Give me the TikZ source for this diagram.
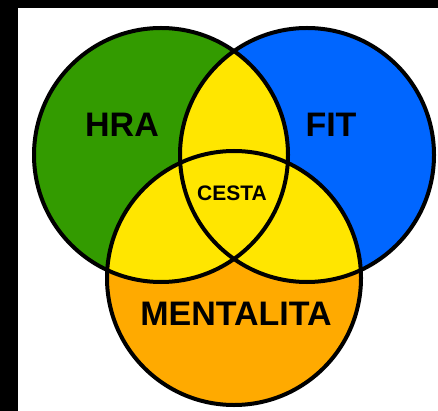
\documentclass[tikz,border=0pt]{standalone}
\usepackage{fontspec}
\setmainfont{Liberation Sans}
\definecolor{hragreen}{RGB}{51,155,0}
\definecolor{fitblue}{RGB}{0,102,255}
\definecolor{cestayellow}{RGB}{255,230,0}
\definecolor{mentorange}{RGB}{255,170,0}
\tikzset{
	ring/.style={line width=4pt, draw=black},
	biglabel/.style={font=\fontsize{34}{34}\selectfont\bfseries, inner sep=0pt},
	smalllabel/.style={font=\fontsize{21}{21}\selectfont\bfseries, inner sep=0pt}
}

\begin{document}
\begin{tikzpicture}[x=1pt, y=-1pt]
		%%%%% START %%%%%
		
		\useasboundingbox (0, 0) rectangle (438, 411);
		\fill[black] (0, 0) rectangle (438, 411);
		\fill[white] (18, 8) rectangle (438, 411);
		
		\coordinate (hrac) at (161, 155);
		\coordinate (fitc) at (307, 155);
		\coordinate (mentc) at (234, 278);
		
		\fill[hragreen] (hrac) circle (127);
		\fill[fitblue] (fitc) circle (127);
		\fill[mentorange] (mentc) circle (127);
		
		\begin{scope}
			\clip (hrac) circle (127);
			\fill[cestayellow] (fitc) circle (127);
			\fill[cestayellow] (mentc) circle (127);
		\end{scope}
		\begin{scope}
			\clip (fitc) circle (127);
			\fill[cestayellow] (mentc) circle (127);
		\end{scope}
		
		\draw[ring] (hrac) circle (127);
		\draw[ring] (fitc) circle (127);
		\draw[ring] (mentc) circle (127);
		
		\node[biglabel] (hra) at (122, 125) {HRA};
		\node[biglabel] (fit) at (331, 125) {FIT};
		\node[biglabel] (mentalita) at (236, 314) {MENTALITA};
		\node[smalllabel] (cesta) at (232, 193) {CESTA};
		
		%%%%% END %%%%%
\end{tikzpicture}
\end{document}
